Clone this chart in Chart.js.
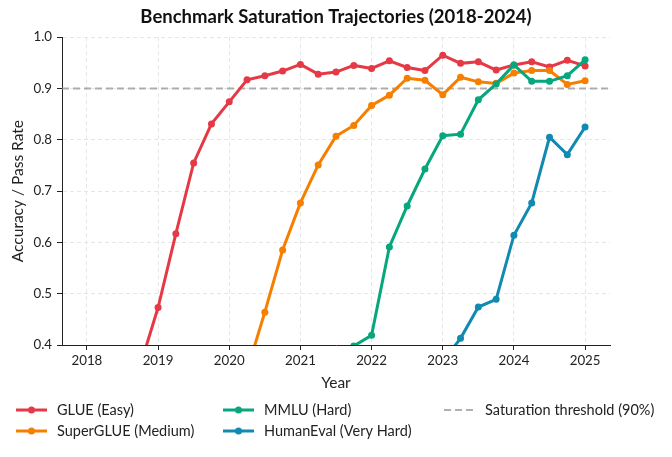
<!DOCTYPE html>
<html>
<head>
<meta charset="utf-8">
<script src="https://cdn.jsdelivr.net/npm/chart.js@4.4.0/dist/chart.umd.min.js"></script>
<style>
  html, body { margin: 0; padding: 0; background: #fff; }
  canvas { display: block; }
</style>
</head>
<body>
<canvas id="chart_saturation" width="672" height="457"></canvas>
<script>
// quarterly sample points
var quarters = [2018, 2018.25, 2018.5, 2018.75, 2019, 2019.25, 2019.5, 2019.75,
                2020, 2020.25, 2020.5, 2020.75, 2021, 2021.25, 2021.5, 2021.75,
                2022, 2022.25, 2022.5, 2022.75, 2023, 2023.25, 2023.5, 2023.75,
                2024, 2024.25, 2024.5, 2024.75, 2025];

var glue = [0.22, 0.26, 0.31, 0.36, 0.473, 0.617, 0.755, 0.831,
            0.874, 0.917, 0.925, 0.934, 0.947, 0.928, 0.932, 0.945,
            0.939, 0.954, 0.941, 0.935, 0.965, 0.949, 0.952, 0.936,
            0.946, 0.952, 0.942, 0.955, 0.944];
var superglue = [null, null, null, null, null, null, null, null,
                 0.25, 0.35, 0.464, 0.585, 0.677, 0.751, 0.807, 0.828,
                 0.867, 0.887, 0.920, 0.916, 0.888, 0.922, 0.913, 0.910,
                 0.930, 0.935, 0.935, 0.908, 0.915];
var mmlu = [null, null, null, null, null, null, null, null,
            null, null, null, null, null, 0.33, 0.37, 0.398,
            0.419, 0.591, 0.671, 0.743, 0.808, 0.811, 0.878, 0.909,
            0.946, 0.914, 0.914, 0.925, 0.956];
var humaneval = [null, null, null, null, null, null, null, null,
                 null, null, null, null, null, null, null, null,
                 null, null, null, null, 0.368, 0.413, 0.474, 0.489,
                 0.614, 0.677, 0.805, 0.771, 0.825];

var seriesLabels = ['GLUE (Easy)', 'SuperGLUE (Medium)', 'MMLU (Hard)', 'HumanEval (Very Hard)'];
var seriesColors = ['#e63946', '#f77f00', '#06a77d', '#118ab2'];
var threshold = 0.9;
var thresholdLabel = 'Saturation threshold (90%)';

var xMin = 2017.65, xMax = 2025.35;
var yTicks = [0.4, 0.5, 0.6, 0.7, 0.8, 0.9, 1.0];
var xTicks = [2018, 2019, 2020, 2021, 2022, 2023, 2024, 2025];

var FONT = 'Lato, "DejaVu Sans", sans-serif';

function pts(values) {
    return quarters.map(function (q, i) { return { x: q, y: values[i] }; });
}

function series(idx, values) {
    return {
        label: seriesLabels[idx],
        data: pts(values),
        borderColor: seriesColors[idx],
        backgroundColor: seriesColors[idx],
        borderWidth: 3,
        pointRadius: 3.5,
        pointBorderWidth: 0,
        pointHoverRadius: 4,
        tension: 0,
        order: 4 - idx
    };
}

// legend laid out in columns like the original, drawn under the axis
var gridLegend = {
    id: 'gridLegend',
    afterDraw: function (chart) {
        var ctx = chart.ctx;
        var colX = [16, 223, 444];
        var rowY = [410, 431];
        ctx.save();
        ctx.font = '14.5px ' + FONT;
        ctx.textBaseline = 'middle';
        ctx.textAlign = 'left';
        chart.data.datasets.forEach(function (ds, i) {
            var x = colX[Math.floor(i / 2)];
            var y = rowY[i % 2];
            ctx.strokeStyle = ds.borderColor;
            ctx.lineWidth = ds.borderWidth;
            ctx.setLineDash(ds.borderDash || []);
            ctx.beginPath();
            ctx.moveTo(x, y);
            ctx.lineTo(x + 31, y);
            ctx.stroke();
            ctx.setLineDash([]);
            if (ds.pointRadius) {
                ctx.fillStyle = ds.backgroundColor;
                ctx.beginPath();
                ctx.arc(x + 15.5, y, ds.pointRadius, 0, Math.PI * 2);
                ctx.fill();
            }
            ctx.fillStyle = '#222';
            ctx.fillText(ds.label, x + 41, y);
        });
        ctx.restore();
    }
};

var ctx1 = document.getElementById('chart_saturation').getContext('2d');
var chart = new Chart(ctx1, {
    type: 'line',
    data: {
        datasets: [
            series(0, glue),
            series(1, superglue),
            series(2, mmlu),
            series(3, humaneval),
            {
                label: thresholdLabel,
                data: [{ x: xMin, y: threshold }, { x: xMax, y: threshold }],
                borderColor: 'rgba(150, 150, 150, 0.75)',
                backgroundColor: 'rgba(150, 150, 150, 0.75)',
                borderWidth: 2,
                borderDash: [7, 4],
                pointRadius: 0,
                order: 5
            }
        ]
    },
    options: {
        responsive: false,
        animation: false,
        layout: { padding: { left: 0, right: 0, top: 0, bottom: 65 } },
        plugins: {
            legend: { display: false },
            tooltip: { enabled: false },
            title: {
                display: true,
                text: 'Benchmark Saturation Trajectories (2018-2024)',
                color: '#111',
                font: { family: FONT, size: 18.5, weight: 'bold' },
                padding: { top: 6, bottom: 9 }
            }
        },
        scales: {
            x: {
                type: 'linear',
                min: xMin,
                max: xMax,
                afterFit: function (s) { s.height = 47; },
                afterBuildTicks: function (s) { s.ticks = xTicks.map(function (v) { return { value: v }; }); },
                ticks: {
                    color: '#222',
                    font: { family: FONT, size: 13.3 },
                    padding: 3,
                    maxRotation: 0,
                    callback: function (v) { return String(v); }
                },
                grid: { color: '#e6e6e6', lineWidth: 1, tickColor: '#222', tickLength: 5, tickWidth: 1 },
                border: { display: true, color: '#222', width: 1, dash: [4, 3] },
                title: {
                    display: true,
                    text: 'Year',
                    color: '#222',
                    font: { family: FONT, size: 15.5 },
                    padding: { top: 0, bottom: 0 }
                }
            },
            y: {
                min: 0.4,
                max: 1.0,
                afterFit: function (s) { s.width = 62; },
                afterBuildTicks: function (s) { s.ticks = yTicks.map(function (v) { return { value: v }; }); },
                ticks: {
                    color: '#222',
                    font: { family: FONT, size: 13.3 },
                    padding: 5,
                    callback: function (v) { return v.toFixed(1); }
                },
                grid: { color: '#e6e6e6', lineWidth: 1, tickColor: '#222', tickLength: 5, tickWidth: 1 },
                border: { display: true, color: '#222', width: 1, dash: [4, 3] },
                title: {
                    display: true,
                    text: 'Accuracy / Pass Rate',
                    color: '#222',
                    font: { family: FONT, size: 15.5 },
                    padding: { top: 9, bottom: 0 }
                }
            },
            // empty right-hand gutter so the title stays centred on the page
            yRight: {
                position: 'right',
                min: 0.4,
                max: 1.0,
                afterFit: function (s) { s.width = 62; },
                ticks: { display: false },
                grid: { display: false, drawTicks: false },
                border: { display: false }
            }
        }
    },
    plugins: [gridLegend]
});
</script>
</body>
</html>
